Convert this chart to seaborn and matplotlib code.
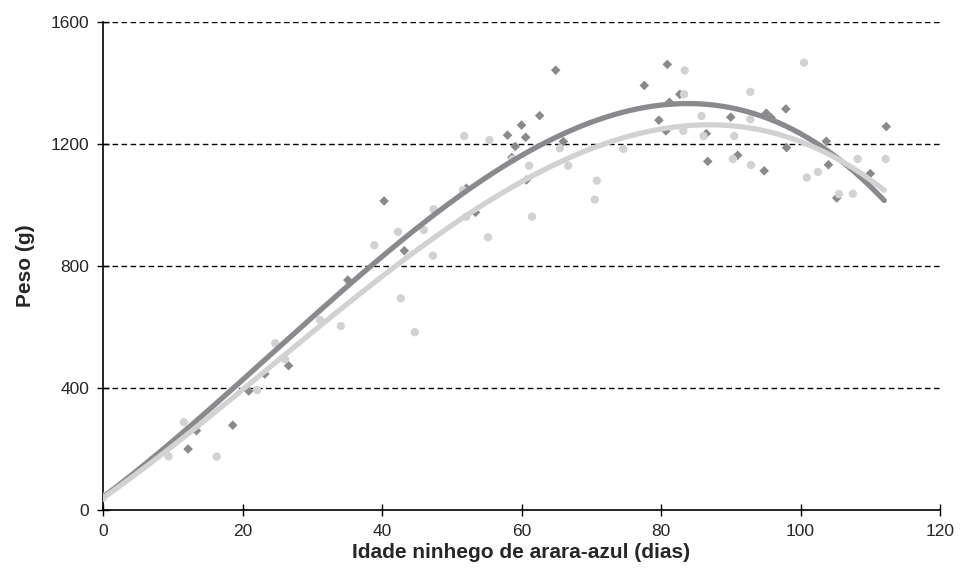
import numpy as np
import pandas as pd
import matplotlib
matplotlib.use("Agg")
import matplotlib.pyplot as plt
import seaborn as sns

# Series 1 (dark diamonds)
dark_x = [0, 12.2, 13.4, 18.6, 20.9, 23.2, 26.6, 35.1, 40.3, 43.2, 52.1, 53.4, 58.0, 58.6, 59.1,
          60.0, 60.6, 60.7, 62.6, 64.9, 66.0, 77.6, 79.7, 80.7, 80.9, 81.2, 82.7, 86.5, 86.7,
          90.0, 91.0, 94.8, 95.1, 95.8, 97.9, 98.0, 103.7, 104.0, 105.2, 110.0, 112.3]
dark_y = [45, 200, 260, 278, 390, 446, 473, 754, 1013, 850, 1055, 976, 1229, 1156, 1192,
          1262, 1222, 1082, 1293, 1442, 1208, 1392, 1278, 1243, 1461, 1337, 1363, 1234, 1143,
          1288, 1163, 1112, 1301, 1286, 1315, 1188, 1209, 1132, 1023, 1103, 1257]

# Series 2 (light circles)
light_x = [0, 9.4, 11.6, 16.3, 22.1, 24.7, 26.1, 31.1, 34.1, 38.9, 42.3, 42.7, 44.7, 46.0, 47.3,
           47.4, 51.6, 51.8, 52.1, 55.2, 55.4, 58.7, 61.1, 61.5, 65.5, 66.7, 70.5, 70.8, 74.6,
           83.3, 83.2, 83.4, 85.8, 86.1, 90.3, 90.5, 92.8, 92.8, 92.9, 100.5, 100.9, 102.5,
           105.5, 107.5, 108.2, 112.2]
light_y = [40, 176, 288, 175, 393, 547, 494, 623, 603, 868, 912, 694, 583, 918, 834,
           986, 1049, 1226, 962, 894, 1213, 1150, 1129, 962, 1186, 1129, 1018, 1080, 1184,
           1363, 1243, 1441, 1292, 1226, 1151, 1226, 1371, 1281, 1131, 1467, 1090, 1108,
           1036, 1037, 1151, 1151]

# Points (order 3) of each series
dark_trend_x = [0.5, 18.5, 38.5, 63.1, 85.0, 103.2, 112.0]
dark_trend_y = [49, 400, 800, 1200, 1328, 1200, 1008]
light_trend_x = [0.5, 20.0, 42.1, 72.7, 87.0, 101.4, 112.0]
light_trend_y = [45, 400, 800, 1200, 1268, 1200, 1044]

x_ticks = [0, 20, 40, 60, 80, 100, 120]
y_ticks = [0, 400, 800, 1200, 1600]
x_label = "Idade ninhego de arara-azul (dias)"
y_label = "Peso (g)"

dark_df = pd.DataFrame({"x": dark_x, "y": dark_y})
light_df = pd.DataFrame({"x": light_x, "y": light_y})


def trend_frame(tx, ty):
    coef = np.polyfit(tx, ty, 3)
    xs = np.linspace(min(tx), max(tx), 300)
    return pd.DataFrame({"x": xs, "y": np.polyval(coef, xs)})


dark_trend = trend_frame(dark_trend_x, dark_trend_y)
light_trend = trend_frame(light_trend_x, light_trend_y)

sns.set_style("white")
plt.rcParams["font.family"] = ["Liberation Sans", "DejaVu Sans"]

fig = plt.figure(figsize=(9.63, 5.83), dpi=100)
ax = fig.add_axes([103 / 963, 1 - 510 / 583, (940 - 103) / 963, (510 - 22) / 583])

dark_c = "#8a8a8e"
light_c = "#d2d2d2"

sns.scatterplot(data=dark_df, x="x", y="y", marker="D", s=24, color="#8a8a8a",
                edgecolor="none", ax=ax, zorder=3)
sns.scatterplot(data=light_df, x="x", y="y", marker="o", s=36, color=light_c,
                edgecolor="none", ax=ax, zorder=3)

sns.lineplot(data=dark_trend, x="x", y="y", color=dark_c, lw=3.8, ax=ax, zorder=4,
             solid_capstyle="round")
sns.lineplot(data=light_trend, x="x", y="y", color=light_c, lw=3.8, ax=ax, zorder=5,
             solid_capstyle="round")

ax.set_xlim(0, 120)
ax.set_ylim(0, 1600)
ax.set_xticks(x_ticks)
ax.set_yticks(y_ticks)
for v in y_ticks[1:]:
    ax.axhline(v, color="black", lw=1.0, ls=(0, (4, 2.5)), zorder=1)

for s in ["top", "right"]:
    ax.spines[s].set_visible(False)
for s in ["left", "bottom"]:
    ax.spines[s].set_color("black")
    ax.spines[s].set_linewidth(1.2)
ax.tick_params(axis="both", direction="inout", length=8, width=1.0, color="black",
               labelsize=12.5, bottom=True, left=True, pad=6)

ax.set_xlabel(x_label, fontsize=15, fontweight="bold", labelpad=3)
ax.set_ylabel(y_label, fontsize=15, fontweight="bold", labelpad=11)

fig.savefig("out.png", dpi=100)
